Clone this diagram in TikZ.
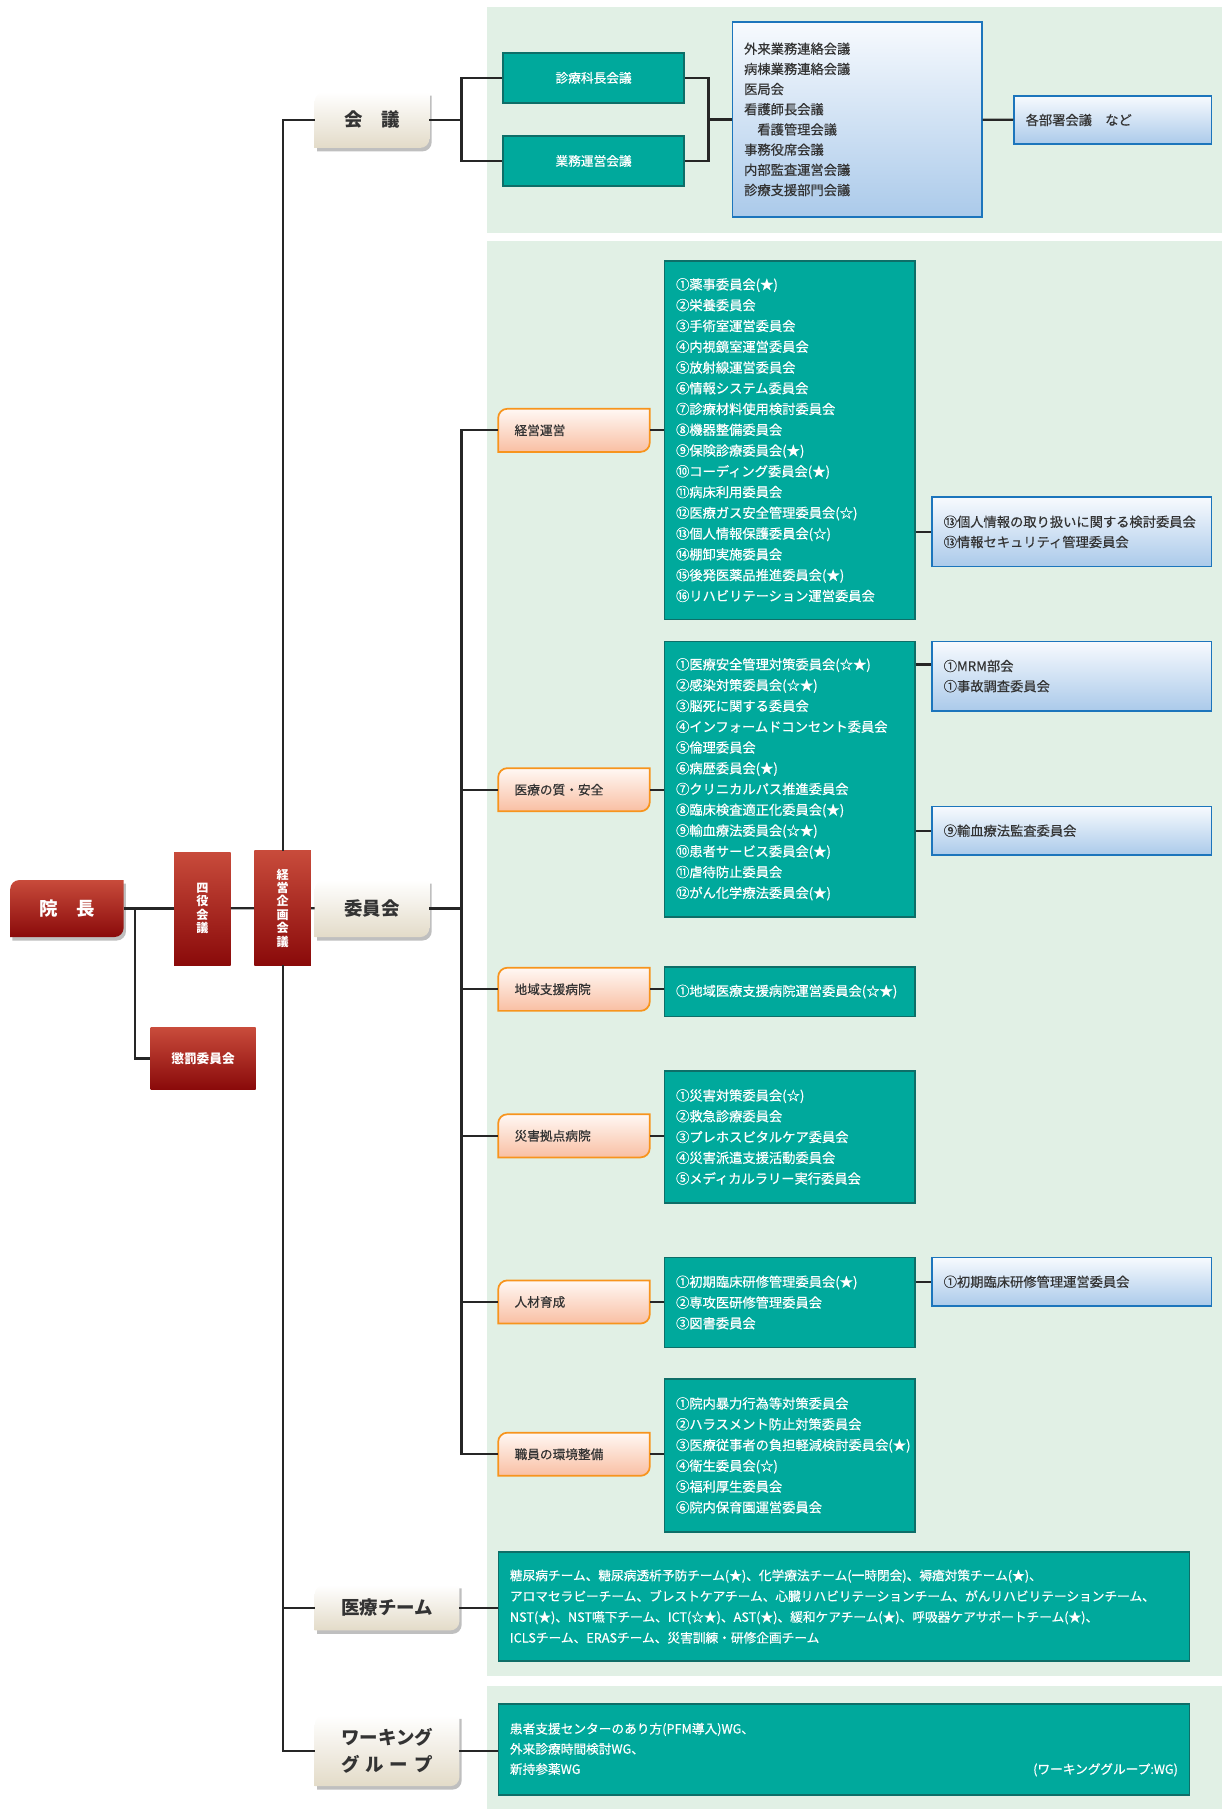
\documentclass[tikz,border=0pt]{standalone}
\usepackage{fontspec}
\newfontfamily\jp{Noto Sans CJK JP}
\newfontfamily\jpm[FakeBold=0.5]{Noto Sans CJK JP}

\pgfdeclarelayer{back}
\pgfsetlayers{back,main}

\definecolor{panelgreen}{HTML}{E1F0E5}
\definecolor{tealfill}{HTML}{00A99C}
\definecolor{tealedge}{HTML}{0E6E68}
\definecolor{blueedge}{HTML}{1C75BC}
\definecolor{bluetop}{HTML}{F7FAFE}
\definecolor{bluebot}{HTML}{ABCAEA}
\definecolor{orangeedge}{HTML}{F7941D}
\definecolor{orangetop}{HTML}{FFF8F4}
\definecolor{orangebot}{HTML}{F9BFA3}
\definecolor{redtop}{HTML}{C84B3B}
\definecolor{redbot}{HTML}{8A0A0A}
\definecolor{creamtop}{HTML}{FFFFFF}
\definecolor{creambot}{HTML}{E3DBC8}
\definecolor{linedark}{HTML}{262626}
\definecolor{textdark}{HTML}{333333}

\tikzset{
  conn/.style={draw=linedark, line width=2pt},
  leafred/.style={inner sep=0pt, text=white, font=\jp\bfseries\fontsize{16}{20}\selectfont},
  leafcream/.style={inner sep=0pt, align=center, text=textdark, font=\jp\bfseries\fontsize{16}{23}\selectfont},
  leaforange/.style={inner xsep=14pt, inner ysep=0pt, text width=103pt, minimum height=37pt, align=left, text=textdark, font=\jpm\fontsize{11}{14}\selectfont},
  redbox/.style={top color=redtop, bottom color=redbot, inner sep=0pt, align=center, text=white, font=\jp\bfseries\fontsize{10.5}{11.6}\selectfont},
  tealsmall/.style={fill=tealfill, draw=tealedge, line width=1.5pt, inner sep=0pt, minimum width=157pt, minimum height=43pt, text=white, font=\jpm\fontsize{11}{14}\selectfont},
  teallist/.style={fill=tealfill, draw=tealedge, line width=1.5pt, inner xsep=10pt, inner ysep=0pt, text width=197pt, align=left, text=white, font=\jpm\fontsize{11.5}{18}\selectfont},
  bluelist/.style={top color=bluetop, bottom color=bluebot, draw=blueedge, line width=1.5pt, inner xsep=10pt, inner ysep=0pt, text width=222pt, align=left, text=textdark, font=\jpm\fontsize{11.5}{17.5}\selectfont},
  teamlist/.style={fill=tealfill, draw=tealedge, line width=1.5pt, inner xsep=10pt, inner ysep=0pt, text width=579pt, align=left, text=white, font=\jpm\fontsize{11}{18}\selectfont}
}

% box with two rounded corners (top left, bottom right)
\newcommand{\leafbg}[3]{%
  \path[#3] ([shift={#2},yshift=8pt]#1.south west) -- ([shift={#2},yshift=-8pt]#1.north west)
    arc[start angle=180,end angle=90,radius=8pt] -- ([shift={#2}]#1.north east)
    -- ([shift={#2},yshift=8pt]#1.south east) arc[start angle=0,end angle=-90,radius=8pt]
    -- ([shift={#2}]#1.south west) -- cycle;}

\begin{document}
\begin{tikzpicture}[x=1pt,y=-1pt]
    \useasboundingbox (0,0) rectangle (1059,1568);
    \begin{pgfonlayer}{back}
        \fill[panelgreen] (422,6) rectangle (1059,202);
        \fill[panelgreen] (422,209) rectangle (1059,1453);
        \fill[panelgreen] (422,1461) rectangle (1059,1568);
    \end{pgfonlayer}

    \node[leafred, minimum width=98pt, minimum height=49pt] (incho) at (58,787.5) {院　長};
    \node[redbox, minimum width=49pt, minimum height=98pt] (yonyaku) at (175.5,787.5) {四\\役\\会\\議};
    \node[redbox, minimum width=49pt, minimum height=99pt] (keiei) at (245,787) {経\\営\\企\\画\\会\\議};
    \node[redbox, minimum width=91pt, minimum height=53pt, font=\jp\bfseries\fontsize{11}{14}\selectfont] (choubatsu) at (176,917.5) {懲罰委員会};

    \node[leafcream, minimum width=99pt, minimum height=48pt] (kaigi) at (322.5,104) {会　議};
    \node[leafcream, minimum width=99pt, minimum height=49pt] (iinkai) at (322.5,787.5) {委員会};
    \node[leafcream, minimum width=125pt, minimum height=39pt] (team) at (335.5,1393.5) {医療チーム};
    \node[leafcream, minimum width=125pt, minimum height=61pt] (wg) at (335.5,1517.5) {ワーキング\\グ\hspace{5pt}ル\hspace{5pt}ー\hspace{5pt}プ};

    \node[tealsmall] (shinryo) at (514.5,67.5) {診療科長会議};
    \node[tealsmall] (gyomu) at (514.5,139.5) {業務運営会議};
    \node[bluelist, text width=196pt, minimum height=169pt] (kaigiList) at (743,103.5) {外来業務連絡会議\\病棟業務連絡会議\\医局会\\看護師長会議\\　看護管理会議\\事務役席会議\\内部監査運営会議\\診療支援部門会議};
    \node[bluelist, text width=151pt, minimum height=42pt] (busho) at (964.5,104) {各部署会議　など};

    \node[leaforange] (keieiUnei) at (497.5,373) {経営運営};
    \node[leaforange] (iryouQual) at (497.5,684.5) {医療の質・安全};
    \node[leaforange] (chiiki) at (497.5,857.5) {地域支援病院};
    \node[leaforange] (saigai) at (497.5,984.5) {災害拠点病院};
    \node[leaforange] (jinzai) at (497.5,1128.5) {人材育成};
    \node[leaforange] (shokuin) at (497.5,1260.5) {職員の環境整備};

    \node[teallist, minimum height=311pt] (listKeiei) at (684.5,381.5) {①薬事委員会(★)\\②栄養委員会\\③手術室運営委員会\\④内視鏡室運営委員会\\⑤放射線運営委員会\\⑥情報システム委員会\\⑦診療材料使用検討委員会\\⑧機器整備委員会\\⑨保険診療委員会(★)\\⑩コーディング委員会(★)\\⑪病床利用委員会\\⑫医療ガス安全管理委員会(☆)\\⑬個人情報保護委員会(☆)\\⑭棚卸実施委員会\\⑮後発医薬品推進委員会(★)\\⑯リハビリテーション運営委員会};
    \node[teallist, minimum height=239pt] (listQual) at (684.5,675.5) {①医療安全管理対策委員会(☆★)\\②感染対策委員会(☆★)\\③脳死に関する委員会\\④インフォームドコンセント委員会\\⑤倫理委員会\\⑥病歴委員会(★)\\⑦クリニカルパス推進委員会\\⑧臨床検査適正化委員会(★)\\⑨輸血療法委員会(☆★)\\⑩患者サービス委員会(★)\\⑪虐待防止委員会\\⑫がん化学療法委員会(★)};
    \node[teallist, minimum height=43pt] (listChiiki) at (684.5,859.5) {①地域医療支援病院運営委員会(☆★)};
    \node[teallist, minimum height=115pt] (listSaigai) at (684.5,985.5) {①災害対策委員会(☆)\\②救急診療委員会\\③プレホスピタルケア委員会\\④災害派遣支援活動委員会\\⑤メディカルラリー実行委員会};
    \node[teallist, minimum height=78pt] (listJinzai) at (684.5,1129) {①初期臨床研修管理委員会(★)\\②専攻医研修管理委員会\\③図書委員会};
    \node[teallist, minimum height=133pt] (listShokuin) at (684.5,1261.5) {①院内暴力行為等対策委員会\\②ハラスメント防止対策委員会\\③医療従事者の負担軽減検討委員会(★)\\④衛生委員会(☆)\\⑤福利厚生委員会\\⑥院内保育園運営委員会};

    \node[bluelist, minimum height=60pt] (subKojin) at (929,461) {⑬個人情報の取り扱いに関する検討委員会\\⑬情報セキュリティ管理委員会};
    \node[bluelist, minimum height=60pt] (subMRM) at (929,586) {①MRM部会\\①事故調査委員会};
    \node[bluelist, minimum height=42pt] (subYuketsu) at (929,720) {⑨輸血療法監査委員会};
    \node[bluelist, minimum height=42pt] (subShoki) at (929,1111) {①初期臨床研修管理運営委員会};

    \node[teamlist, minimum height=95pt] (teamList) at (731.5,1392.5) {糖尿病チーム、糖尿病透析予防チーム(★)、化学療法チーム(一時閉会)、褥瘡対策チーム(★)、\\アロマセラピーチーム、ブレストケアチーム、心臓リハビリテーションチーム、がんリハビリテーションチーム、\\NST(★)、NST嚥下チーム、ICT(☆★)、AST(★)、緩和ケアチーム(★)、呼吸器ケアサポートチーム(★)、\\ICLSチーム、ERASチーム、災害訓練・研修企画チーム};
    \node[teamlist, minimum height=79pt, font=\jpm\fontsize{11}{17.5}\selectfont] (wgList) at (731.5,1516.5) {患者支援センターのあり方(PFM導入)WG、\\外来診療時間検討WG、\\新持参薬WG\hfill(ワーキンググループ:WG)};

    \begin{pgfonlayer}{back}
        \leafbg{incho}{(2pt,-3pt)}{fill=black, fill opacity=.25}
        \leafbg{incho}{(0pt,0pt)}{top color=redtop, bottom color=redbot}
        \leafbg{kaigi}{(2pt,-3pt)}{fill=black, fill opacity=.25}
        \leafbg{kaigi}{(0pt,0pt)}{top color=creamtop, bottom color=creambot}
        \leafbg{iinkai}{(2pt,-3pt)}{fill=black, fill opacity=.25}
        \leafbg{iinkai}{(0pt,0pt)}{top color=creamtop, bottom color=creambot}
        \leafbg{team}{(2pt,-3pt)}{fill=black, fill opacity=.25}
        \leafbg{team}{(0pt,0pt)}{top color=creamtop, bottom color=creambot}
        \leafbg{wg}{(2pt,-3pt)}{fill=black, fill opacity=.25}
        \leafbg{wg}{(0pt,0pt)}{top color=creamtop, bottom color=creambot}
        \leafbg{keieiUnei}{(0pt,0pt)}{top color=orangetop, bottom color=orangebot, draw=orangeedge, line width=1.5pt}
        \leafbg{iryouQual}{(0pt,0pt)}{top color=orangetop, bottom color=orangebot, draw=orangeedge, line width=1.5pt}
        \leafbg{chiiki}{(0pt,0pt)}{top color=orangetop, bottom color=orangebot, draw=orangeedge, line width=1.5pt}
        \leafbg{saigai}{(0pt,0pt)}{top color=orangetop, bottom color=orangebot, draw=orangeedge, line width=1.5pt}
        \leafbg{jinzai}{(0pt,0pt)}{top color=orangetop, bottom color=orangebot, draw=orangeedge, line width=1.5pt}
        \leafbg{shokuin}{(0pt,0pt)}{top color=orangetop, bottom color=orangebot, draw=orangeedge, line width=1.5pt}
    \end{pgfonlayer}

    \draw[conn] (incho) -- (yonyaku);
    \draw[conn] (yonyaku) -- (keiei);
    \draw[conn] (keiei) -- (iinkai);
    \coordinate (jChoubatsu) at (117,787.5);
    \draw[conn] (jChoubatsu) |- (choubatsu.west);
    \draw[conn] (kaigi.west) -| (keiei.north);
    \draw[conn] (keiei.south) |- (team.west);
    \draw[conn] (keiei.south) |- (wg.west);

    \coordinate (jKaigi) at (400,104);
    \draw[conn] (kaigi.east) -- (jKaigi);
    \draw[conn] (jKaigi) |- (shinryo.west);
    \draw[conn] (jKaigi) |- (gyomu.west);
    \coordinate (jKaigiList) at (614,103.5);
    \draw[conn] (shinryo.east) -| (jKaigiList) |- (gyomu.east);
    \draw[conn] (jKaigiList) -- (kaigiList.west);
    \draw[conn] (kaigiList) -- (busho);

    \coordinate (jIinkai) at (400,787.5);
    \draw[conn] (iinkai.east) -- (jIinkai);
    \draw[conn] (jIinkai) |- (keieiUnei.west);
    \draw[conn] (jIinkai) |- (iryouQual.west);
    \draw[conn] (jIinkai) |- (chiiki.west);
    \draw[conn] (jIinkai) |- (saigai.west);
    \draw[conn] (jIinkai) |- (jinzai.west);
    \draw[conn] (jIinkai) |- (shokuin.west);

    \draw[conn] (keieiUnei.east) -- (keieiUnei.east -| listKeiei.west);
    \draw[conn] (iryouQual.east) -- (iryouQual.east -| listQual.west);
    \draw[conn] (chiiki.east) -- (chiiki.east -| listChiiki.west);
    \draw[conn] (saigai.east) -- (saigai.east -| listSaigai.west);
    \draw[conn] (jinzai.east) -- (jinzai.east -| listJinzai.west);
    \draw[conn] (shokuin.east) -- (shokuin.east -| listShokuin.west);

    \draw[conn] (subKojin.west -| listKeiei.east) -- (subKojin.west);
    \coordinate (mrmIn) at ([yshift=10pt]subMRM.west);
    \draw[conn] (mrmIn -| listQual.east) -- (mrmIn);
    \draw[conn] (subYuketsu.west -| listQual.east) -- (subYuketsu.west);
    \draw[conn] (subShoki.west -| listJinzai.east) -- (subShoki.west);

    \draw[conn] (team.east) -- (team.east -| teamList.west);
    \draw[conn] (wg.east) -- (wg.east -| wgList.west);
\end{tikzpicture}
\end{document}
